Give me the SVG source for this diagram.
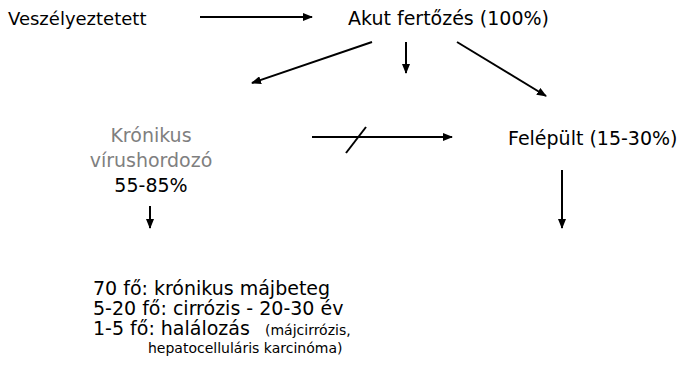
<svg xmlns="http://www.w3.org/2000/svg" width="680" height="372" viewBox="0 0 680 372">
<defs>
<marker id="ah" markerWidth="10" markerHeight="8" refX="9" refY="4" orient="auto" markerUnits="userSpaceOnUse">
<path d="M0,0 L10,4 L0,8 Z" fill="#000"/>
</marker>
<style>
text{font-family:"DejaVu Sans","Verdana",sans-serif;font-size:19px;fill:#000}
.g{fill:#7f7f7f}
.s{font-size:14px}
.c line{stroke:#000;stroke-width:2}
</style>
</defs>
<rect width="680" height="372" fill="#fff"/>
<g id="n-veszelyeztetett"><text x="8" y="25" style="font-size:18px">Veszélyeztetett</text></g>
<g id="n-akut"><text x="348" y="25">Akut fertőzés (100%)</text></g>
<g id="n-kronikus" text-anchor="middle">
<text class="g" x="151" y="142">Krónikus</text>
<text class="g" x="151" y="167">vírushordozó</text>
<text x="151" y="192">55-85%</text>
</g>
<g id="n-felepult"><text x="508" y="145">Felépült (15-30%)</text></g>
<g id="n-kimenetel">
<text x="93" y="295">70 fő: krónikus májbeteg</text>
<text x="93" y="315">5-20 fő: cirrózis - 20-30 év</text>
<text x="93" y="335">1-5 fő: halálozás <tspan class="s" x="265">(májcirrózis,</tspan></text>
<text class="s" x="148" y="353">hepatocelluláris karcinóma)</text>
</g>
<g id="connectors" class="c">
<line x1="200" y1="17" x2="312" y2="17" marker-end="url(#ah)"/>
<line x1="372" y1="42" x2="252" y2="83" marker-end="url(#ah)"/>
<line x1="406" y1="42" x2="406" y2="73" marker-end="url(#ah)"/>
<line x1="457" y1="42" x2="546" y2="96" marker-end="url(#ah)"/>
<line x1="150" y1="206" x2="150" y2="228" marker-end="url(#ah)"/>
<line x1="312" y1="137" x2="452" y2="137" marker-end="url(#ah)"/>
<line x1="346" y1="153" x2="366" y2="127"/>
<line x1="562" y1="170" x2="562" y2="228" marker-end="url(#ah)"/>
</g>
</svg>
